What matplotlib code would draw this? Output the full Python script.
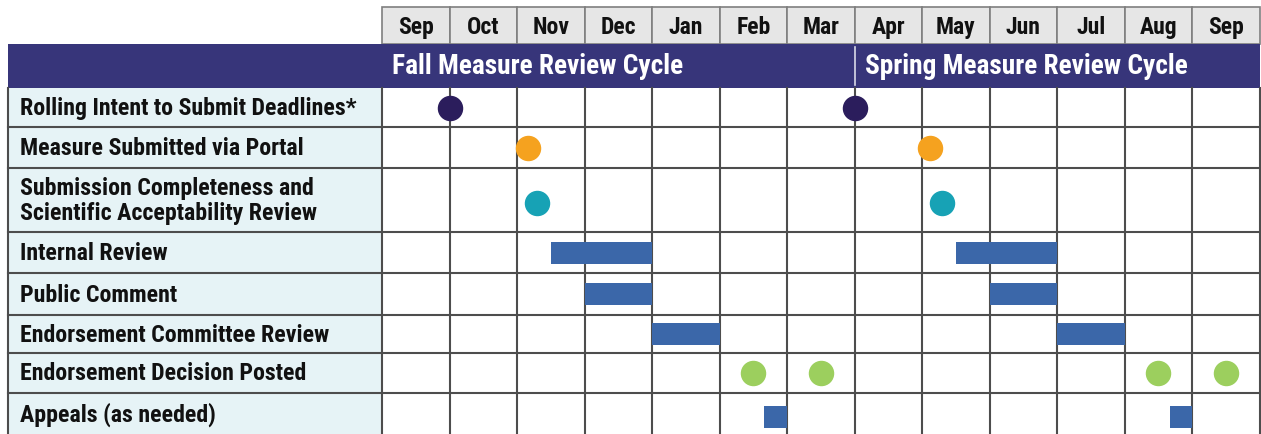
import matplotlib.pyplot as plt
from matplotlib import font_manager
from matplotlib.patches import Rectangle

# narrow sans like Arial Narrow Bold, first one that is installed
installed = {f.name for f in font_manager.fontManager.ttflist}
wanted = ["Liberation Sans Narrow", "Arial Narrow", "Roboto Condensed",
          "PT Sans Narrow", "Archivo Narrow", "Asap Condensed", "Liberation Sans"]
font = next(f for f in wanted + ["DejaVu Sans"] if f in installed or f == "DejaVu Sans")
plt.rcParams['font.family'] = [font, 'DejaVu Sans']

# ---- data (x in months, 0 = start of first Sep) ----
months = ["Sep", "Oct", "Nov", "Dec", "Jan", "Feb", "Mar",
          "Apr", "May", "Jun", "Jul", "Aug", "Sep"]
cycles = ["Fall Measure Review Cycle", "Spring Measure Review Cycle"]
cycle_starts = [0, 7]

tasks = ["Rolling Intent to Submit Deadlines*",
         "Measure Submitted via Portal",
         "Submission Completeness and\nScientific Acceptability Review",
         "Internal Review",
         "Public Comment",
         "Endorsement Committee Review",
         "Endorsement Decision Posted",
         "Appeals (as needed)"]

# milestones, month positions
intent_dates = [1.0, 7.0]
submitted_dates = [2.16, 8.12]
completeness_dates = [2.3, 8.3]
decision_dates = [5.5, 6.5, 11.5, 12.5]

# bars: (start, end) in months
internal_review = [(2.5, 4.0), (8.5, 10.0)]
public_comment = [(3.0, 4.0), (9.0, 10.0)]
committee_review = [(4.0, 5.0), (10.0, 11.0)]
appeals = [(5.66, 6.0), (11.67, 12.0)]

# ---- layout (pixels) ----
W, H = 1261, 434
col0, colw = 382, 67.5       # first month column edge, width per month
left = 8
head_top, band_top, band_bot = 7, 44, 88
row_edges = [88, 127, 168, 232, 273, 315, 353, 393, 434]


def mx(px):
    return (px - col0) / colw


def row_mid(i):
    return (row_edges[i] + row_edges[i + 1]) / 2


fig = plt.figure(figsize=(W / 100, H / 100), dpi=100)
ax = fig.add_axes([0, 0, 1, 1])
ax.set_xlim(mx(0), mx(W))
ax.set_ylim(H, 0)
ax.axis("off")

grid = "#4d4d4d"
n = len(months)

# header with month names
for i, m in enumerate(months):
    ax.add_patch(Rectangle((i, head_top), 1, band_top - head_top,
                           facecolor="#e6e6e6", edgecolor="#7f7f7f", lw=1.2, zorder=1))
    ax.text(i + 0.5, (head_top + band_top) / 2 + 2, m, ha="center", va="center",
            fontsize=17, fontweight="bold", color="#111111", zorder=3)

# purple cycle band
ax.add_patch(Rectangle((mx(left), band_top), n - mx(left), band_bot - band_top,
                       facecolor="#37357a", edgecolor="none", zorder=1))
ax.plot([cycle_starts[1], cycle_starts[1]], [band_top + 3, band_bot - 3],
        color="#d9d9e8", lw=1.2, zorder=2)
for c, s in zip(cycles, cycle_starts):
    ax.text(s + 0.15, (band_top + band_bot) / 2 + 1, c, ha="left", va="center",
            fontsize=19.7, fontweight="bold", color="white", zorder=3)

# label column
ax.add_patch(Rectangle((mx(left), band_bot), -mx(left), H - band_bot,
                       facecolor="#e6f3f6", edgecolor="none", zorder=0))
for i, t in enumerate(tasks):
    ax.text(mx(20), row_mid(i) + 1, t, ha="left", va="center", fontsize=17.2,
            fontweight="bold", color="#111111", linespacing=1.1, zorder=3)

# grid lines
for y in row_edges[1:-1]:
    ax.plot([mx(left), n], [y, y], color=grid, lw=1.5, zorder=2)
for x in range(n + 1):
    ax.plot([x, x], [band_bot, H], color=grid, lw=1.5, zorder=2)
ax.plot([mx(left), mx(left)], [band_bot, H], color=grid, lw=1.5, zorder=2)

# milestones
dot = 300
ax.scatter(intent_dates, [row_mid(0)] * len(intent_dates), s=dot, color="#2b1d5c", zorder=4)
ax.scatter(submitted_dates, [row_mid(1)] * len(submitted_dates), s=dot, color="#f5a21f", zorder=4)
ax.scatter(completeness_dates, [row_mid(2) + 3] * len(completeness_dates), s=dot, color="#17a2b5", zorder=4)
ax.scatter(decision_dates, [row_mid(6)] * len(decision_dates), s=dot, color="#9ccf5e", zorder=4)

# bars
bar_h = 22
for i, spans in [(3, internal_review), (4, public_comment),
                 (5, committee_review), (7, appeals)]:
    yc = row_mid(i) if i != 7 else 417
    for s, e in spans:
        ax.add_patch(Rectangle((s, yc - bar_h / 2), e - s, bar_h,
                               facecolor="#3b67a9", edgecolor="none", zorder=3))

fig.savefig("out.png", dpi=100)
